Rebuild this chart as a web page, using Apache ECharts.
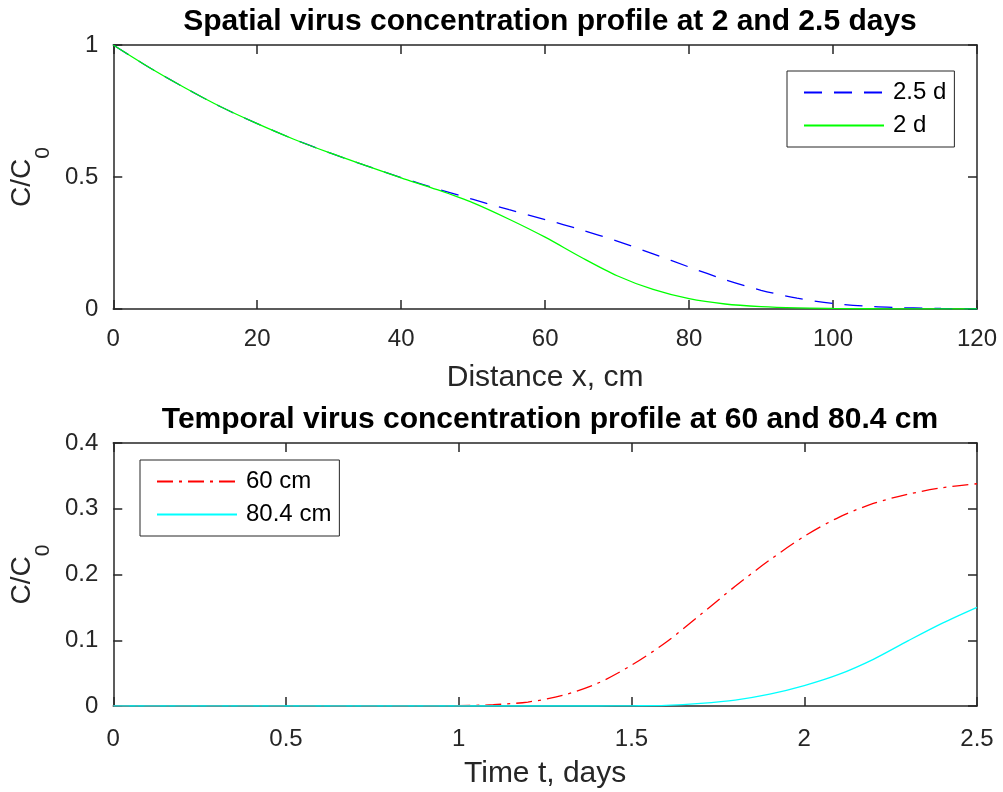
<!DOCTYPE html>
<html>
<head>
<meta charset="utf-8">
<script src="https://cdn.jsdelivr.net/npm/echarts@6/dist/echarts.min.js"></script>
<style>html,body{margin:0;padding:0;background:#fff;}#c{width:1003px;height:792px;}</style>
</head>
<body>
<div id="c"></div>
<script>
// ---- data ----
const distX = [0,5,10,15,20,25,30,35,40,45,50,55,60,65,70,75,80,85,90,95,100,105,110,115,120];
const conc25d = [1.0,0.915,0.837,0.765,0.702,0.644,0.592,0.544,0.498,0.455,0.415,0.376,0.339,0.300,0.257,0.209,0.159,0.111,0.071,0.041,0.021,0.010,0.005,0.002,0.001];
const conc2d  = [1.0,0.915,0.837,0.765,0.702,0.644,0.592,0.544,0.497,0.452,0.402,0.340,0.272,0.196,0.126,0.074,0.039,0.019,0.009,0.004,0.002,0.001,0.0005,0.0002,0.0001];
const timeT = [0,0.1,0.2,0.3,0.4,0.5,0.6,0.7,0.8,0.9,1.0,1.1,1.2,1.3,1.4,1.5,1.6,1.7,1.8,1.9,2.0,2.1,2.2,2.3,2.4,2.5];
const conc60cm = [0,0,0,0,0,0,0,0,0,0,0.0005,0.002,0.006,0.016,0.034,0.062,0.097,0.139,0.182,0.222,0.258,0.287,0.308,0.322,0.332,0.338];
const conc80cm = [0,0,0,0,0,0,0,0,0,0,0,0,0,0,0,0.0003,0.001,0.004,0.009,0.018,0.031,0.048,0.071,0.099,0.126,0.150];
const names = {top:['2.5 d','2 d'], bottom:['60 cm','80.4 cm']};
const titles = ['Spatial virus concentration profile at 2 and 2.5 days','Temporal virus concentration profile at 60 and 80.4 cm'];

const pairs = (xs, ys) => xs.map((x,i)=>[x, ys[i]]);
const AX = '#262626';
const FONT = 'Liberation Sans, Arial, Helvetica, sans-serif';
const TICK = 24, LAB = 30, TTL = 30;

function xAx(gi, min, max, interval, name, isTop, margin, gap){
  return {
    type:'value', gridIndex:gi, min, max, interval,
    position: isTop ? 'top' : 'bottom',
    name: isTop ? '' : name, nameLocation:'middle', nameGap:gap,
    nameTextStyle:{fontFamily:FONT, fontSize:LAB, color:AX},
    axisLine:{show:true, onZero:false, lineStyle:{color:AX, width:1.5}},
    axisTick:{show:true, inside:true, length:9, lineStyle:{color:AX, width:1.5}},
    axisLabel:{show:!isTop, margin:margin, fontFamily:FONT, fontSize:TICK, color:AX},
    splitLine:{show:false}
  };
}
function yAx(gi, min, max, interval, isRight){
  return {
    type:'value', gridIndex:gi, min, max, interval,
    position: isRight ? 'right' : 'left',
    name: isRight ? '' : '{m|C/C}{s|0}', nameLocation:'middle', nameGap:59, nameRotate:90,
    nameTextStyle:{fontFamily:FONT, color:AX,
      rich:{m:{fontFamily:FONT, fontSize:28, color:AX, verticalAlign:'top', lineHeight:34},
            s:{fontFamily:FONT, fontSize:21, color:AX, verticalAlign:'bottom', lineHeight:46}}},
    axisLine:{show:true, onZero:false, lineStyle:{color:AX, width:1.5}},
    axisTick:{show:true, inside:true, length:9, lineStyle:{color:AX, width:1.5}},
    axisLabel:{show:!isRight, margin:15, fontFamily:FONT, fontSize:TICK, color:AX},
    splitLine:{show:false}
  };
}

const legendBase = {
  orient:'vertical', itemWidth:80, itemHeight:14, itemGap:9,
  backgroundColor:'#fff', borderColor:AX, borderWidth:1, borderRadius:0,
  itemStyle:{opacity:0},
  textStyle:{fontFamily:FONT, fontSize:TICK, color:'#000', lineHeight:24, padding:[0,0,0,4]}
};

const option = {
  animation:false,
  backgroundColor:'#fff',
  title:[
    {text:titles[0], left:545, top:2, textAlign:'center', textStyle:{fontFamily:FONT, fontSize:TTL, fontWeight:'bold', color:'#000'}},
    {text:titles[1], left:545, top:400, textAlign:'center', textStyle:{fontFamily:FONT, fontSize:TTL, fontWeight:'bold', color:'#000'}}
  ],
  grid:[
    {left:113, right:26, top:45, height:264},
    {left:113, right:26, top:443, height:263}
  ],
  xAxis:[
    xAx(0,0,120,20,'Distance x, cm',false,18,54),
    xAx(0,0,120,20,'',true,18,54),
    xAx(1,0,2.5,0.5,'Time t, days',false,21,53),
    xAx(1,0,2.5,0.5,'',true,21,53)
  ],
  yAxis:[
    yAx(0,0,1,0.5,false),
    yAx(0,0,1,0.5,true),
    yAx(1,0,0.4,0.1,false),
    yAx(1,0,0.4,0.1,true)
  ],
  legend:[
    Object.assign({}, legendBase, {data:names.top, left:787, top:71, padding:[9.5,8,9.5,16]}),
    Object.assign({}, legendBase, {data:names.bottom, left:140, top:460, padding:[9.5,8,9.5,16]})
  ],
  series:[
    {name:names.top[0], type:'line', xAxisIndex:0, yAxisIndex:0, data:pairs(distX, conc25d), symbol:'none', smooth:0.3,
      lineStyle:{color:'#0000ff', width:1.3, type:[18,12]}, itemStyle:{color:'#0000ff'}},
    {name:names.top[1], type:'line', xAxisIndex:0, yAxisIndex:0, data:pairs(distX, conc2d), symbol:'none', smooth:0.3,
      lineStyle:{color:'#00ff00', width:1.3}, itemStyle:{color:'#00ff00'}},
    {name:names.bottom[0], type:'line', xAxisIndex:2, yAxisIndex:2, data:pairs(timeT, conc60cm), symbol:'none', smooth:0.3,
      lineStyle:{color:'#ff0000', width:1.3, type:[16,6,3,6]}, itemStyle:{color:'#ff0000'}},
    {name:names.bottom[1], type:'line', xAxisIndex:2, yAxisIndex:2, data:pairs(timeT, conc80cm), symbol:'none', smooth:0.3,
      lineStyle:{color:'#00ffff', width:1.3}, itemStyle:{color:'#00ffff'}}
  ]
};
const chart = echarts.init(document.getElementById('c'), null, {renderer:'canvas'});
chart.setOption(option);
</script>
</body>
</html>
